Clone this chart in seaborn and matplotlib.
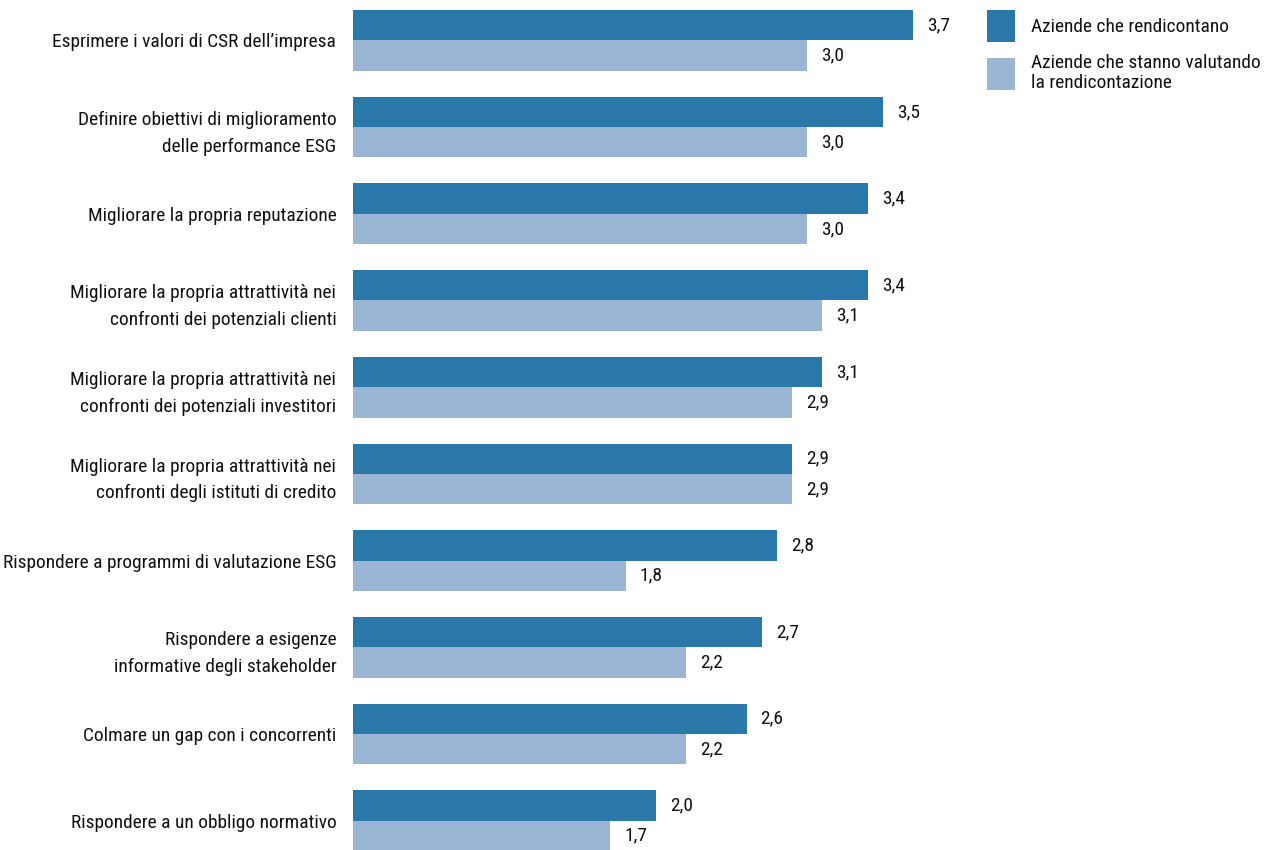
import pandas as pd
import seaborn as sns
import matplotlib.pyplot as plt
from matplotlib import font_manager
from matplotlib.patches import Patch
from matplotlib.textpath import TextPath
from matplotlib.font_manager import FontProperties

# Data
categories = [
    'Esprimere i valori di CSR dell\u2019impresa',
    'Definire obiettivi di miglioramento\ndelle performance ESG',
    'Migliorare la propria reputazione',
    'Migliorare la propria attrattività nei\nconfronti dei potenziali clienti',
    'Migliorare la propria attrattività nei\nconfronti dei potenziali investitori',
    'Migliorare la propria attrattività nei\nconfronti degli istituti di credito',
    'Rispondere a programmi di valutazione ESG',
    'Rispondere a esigenze\ninformative degli stakeholder',
    'Colmare un gap con i concorrenti',
    'Rispondere a un obbligo normativo',
]
rendicontano = [3.7, 3.5, 3.4, 3.4, 3.1, 2.9, 2.8, 2.7, 2.6, 2.0]
valutando = [3.0, 3.0, 3.0, 3.1, 2.9, 2.9, 1.8, 2.2, 2.2, 1.7]
series_names = ['Aziende che rendicontano',
                'Aziende che stanno valutando\nla rendicontazione']

df = pd.DataFrame({
    'categoria': categories * 2,
    'valore': rendicontano + valutando,
    'serie': [series_names[0]] * len(categories) + [series_names[1]] * len(categories),
})

sns.set_theme(style='white')

# the reference uses a condensed grotesque; pick a narrow face if one exists
fonts = font_manager.fontManager.ttflist
narrow = [f for f in fonts
          if any(k in f.name for k in ('Narrow', 'Condensed'))
          or str(f.stretch) in ('condensed', 'semi-condensed', 'extra-condensed')]
narrow = [f for f in narrow if f.weight in (400, 'normal', 'regular') and f.style == 'normal']
if narrow:
    pick = sorted(narrow, key=lambda f: ('Liberation' not in f.name, 'Roboto' not in f.name))[0]
    family, stretch = pick.name, pick.stretch
else:
    family, stretch = 'Liberation Sans', 'normal'
plt.rcParams['font.family'] = [family, 'DejaVu Sans']
plt.rcParams['font.stretch'] = stretch

# size the text so the widest single-line label spans ~330 px like the reference
probe = TextPath((0, 0), 'Rispondere a programmi di valutazione ESG', size=10,
                 prop=FontProperties(family=family, stretch=stretch))
w10 = probe.get_extents().width * 100 / 72
fs = min(16, 10 * 332 / w10)
fs_px = fs * 100 / 72

colors = ['#2978A9', '#9BB5D4']

fig = plt.figure(figsize=(12.77, 8.5), dpi=100)
ax = fig.add_axes([353 / 1277, 0, (4.0 * 151.4) / 1277, 1])

sns.barplot(data=df, x='valore', y='categoria', hue='serie', orient='h',
            palette=colors, width=0.7, gap=0, saturation=1, linewidth=0,
            ax=ax, legend=False)

for cont in ax.containers:
    ax.bar_label(cont, labels=[f'{v:.1f}'.replace('.', ',') for v in cont.datavalues],
                 padding=10, fontsize=fs, color='#111111')

ax.set_xlim(0, 4.0)
ax.set_ylim(9.34, -0.467)
ax.set_xlabel('')
ax.set_ylabel('')
ax.set_xticks([])
ax.tick_params(axis='y', length=0, pad=12, labelsize=fs, labelcolor='#111111')
for lbl in ax.get_yticklabels():
    lbl.set_multialignment('right')
    lbl.set_linespacing(1.6)
sns.despine(ax=ax, left=True, bottom=True)

# legend squares ~28x32 px
hh = (32 / fs_px - 0.245) / 0.65
handles = [Patch(facecolor=c, edgecolor='none') for c in colors]
leg = fig.legend(handles, series_names, loc='upper left',
                 bbox_to_anchor=(987 / 1277, 1 - 10 / 850), frameon=False,
                 fontsize=fs, handlelength=28 / fs_px, handleheight=hh,
                 handletextpad=0.8, labelspacing=0.6, borderpad=0, borderaxespad=0)
for t in leg.get_texts():
    t.set_linespacing(1.15)
    t.set_color('#111111')

plt.savefig('out.png', dpi=100)
